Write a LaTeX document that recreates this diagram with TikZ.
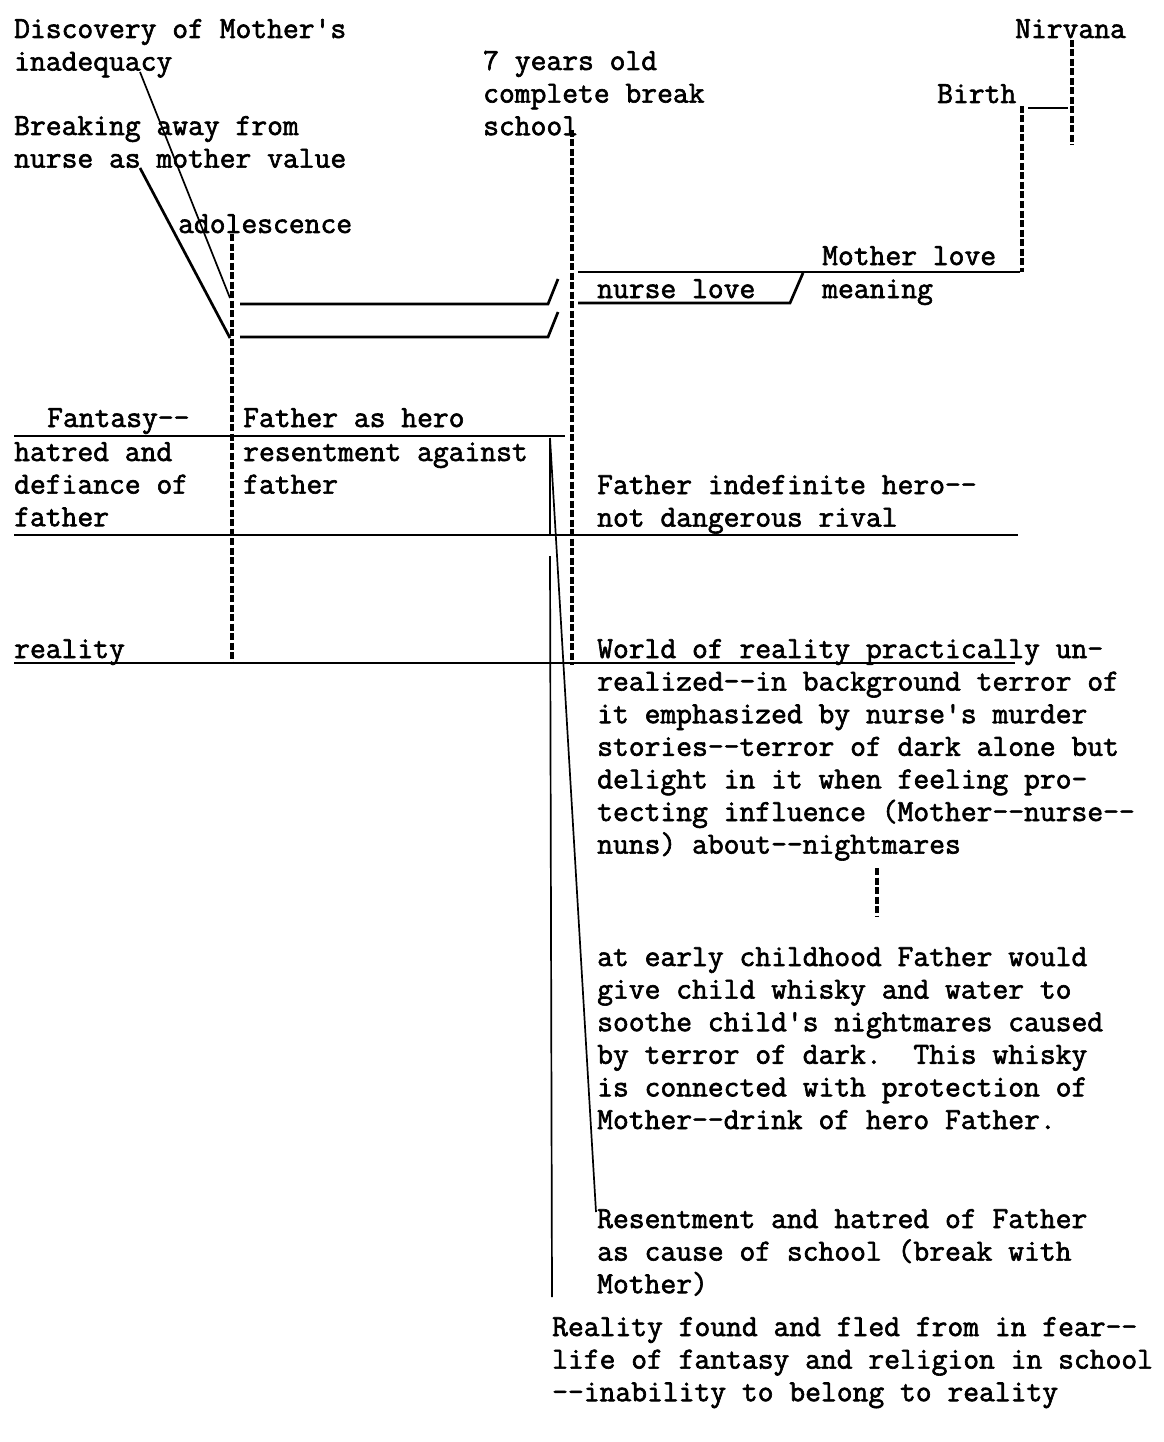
\documentclass[tikz,border=0pt]{standalone}
\usepackage{fontspec}
\setmonofont[FakeBold=2]{Latin Modern Mono}
\newcommand\tlines[1]{\vtop{\halign{##\hfil\cr#1\crcr}}}
\begin{document}
\frenchspacing
\begin{tikzpicture}[x=1pt,y=-1pt,
  txt/.style={font=\ttfamily\fontsize{30.7}{32.6}\selectfont, inner sep=0pt, anchor=base west},
  rule/.style={line width=2.7pt},
  fine/.style={line width=1.7pt},
  dots/.style={line width=4pt, dash pattern=on 7pt off 2.5pt}]
\fill[white] (0,0) rectangle (1163,1442);
\useasboundingbox (0,0) rectangle (1163,1442);
% texts
\node[txt] (disc) at (14,38) {\tlines{Discovery of Mother's\cr inadequacy}};
\node[txt] (brk) at (14,135) {\tlines{Breaking away from\cr nurse as mother value}};
\node[txt] (adol) at (178,233) {adolescence};
\node[txt] (seven) at (483,70) {\tlines{7 years old\cr complete break\cr school}};
\node[txt] (nirv) at (1015,38) {Nirvana};
\node[txt] (birth) at (937,103) {Birth};
\node[txt] (mlove) at (822,265) {Mother love};
\node[txt] (nlove) at (597,298) {nurse love};
\node[txt] (mean) at (822,298) {meaning};
\node[txt] (fant) at (47,427) {Fantasy-{}-};
\node[txt] (fhero) at (243,427) {Father as hero};
\node[txt] (hatred) at (14,461) {\tlines{hatred and\cr defiance of\cr father}};
\node[txt] (resent) at (243,461) {\tlines{resentment against\cr father}};
\node[txt] (findef) at (597,494) {\tlines{Father indefinite hero-{}-\cr not dangerous rival}};
\node[txt] (real) at (14,658) {reality};
\node[txt] (world) at (597,658) {\tlines{World of reality practically un-\cr realized-{}-in background terror of\cr it emphasized by nurse's murder\cr stories-{}-terror of dark alone but\cr delight in it when feeling pro-\cr tecting influence (Mother-{}-nurse-{}-\cr nuns) about-{}-nightmares}};
\node[txt] (early) at (597,966) {\tlines{at early childhood Father would\cr give child whisky and water to\cr soothe child's nightmares caused\cr by terror of dark.\ \ This whisky\cr is connected with protection of\cr Mother-{}-drink of hero Father.}};
\node[txt] (rhate) at (597,1228) {\tlines{Resentment and hatred of Father\cr as cause of school (break with\cr Mother)}};
\node[txt] (rfound) at (552,1336) {\tlines{Reality found and fled from in fear-{}-\cr life of fantasy and religion in school\cr -{}-inability to belong to reality}};
% coordinates
\coordinate (d1) at (140,72); \coordinate (d2) at (230,298);
\coordinate (b1) at (140,168); \coordinate (b2) at (230,338);
\coordinate (L1a) at (240,304); \coordinate (L1b) at (548,304); \coordinate (L1c) at (558,279);
\coordinate (L2a) at (240,337); \coordinate (L2b) at (548,337); \coordinate (L2c) at (558,312);
\coordinate (R1a) at (578,272); \coordinate (R1b) at (1020,272);
\coordinate (R2a) at (578,303); \coordinate (R2b) at (790,303); \coordinate (R2c) at (803,273);
\coordinate (H1a) at (14,436); \coordinate (H1b) at (565,436);
\coordinate (H2a) at (14,535); \coordinate (H2b) at (1018,535);
\coordinate (H3a) at (14,663); \coordinate (H3b) at (1015,663);
\coordinate (t0) at (550,438); \coordinate (tg1) at (550,535); \coordinate (tg2) at (550,556);
\coordinate (t1) at (552,1297); \coordinate (t2) at (596,1212);
\coordinate (v1a) at (232,234); \coordinate (v1b) at (232,662);
\coordinate (v2a) at (572,130); \coordinate (v2b) at (572,665);
\coordinate (v3a) at (1022,106); \coordinate (v3b) at (1022,272);
\coordinate (v4a) at (1072,40); \coordinate (v4b) at (1072,145);
\coordinate (v5a) at (877,868); \coordinate (v5b) at (877,916);
\coordinate (bl1) at (1028,108); \coordinate (bl2) at (1068,108);
% connectors
\draw[fine] (d1) -- (d2);
\draw[rule] (b1) -- (b2);
\draw[rule] (L1a) -- (L1b) -- (L1c);
\draw[rule] (L2a) -- (L2b) -- (L2c);
\draw[rule] (R1a) -- (R1b);
\draw[rule] (R2a) -- (R2b) -- (R2c);
\draw[rule] (H1a) -- (H1b);
\draw[rule] (H2a) -- (H2b);
\draw[rule] (H3a) -- (H3b);
\draw[fine] (t0) -- (tg1);
\draw[fine] (tg2) -- (t1);
\draw[fine] (t0) -- (t2);
\draw[dots] (v1a) -- (v1b);
\draw[dots] (v2a) -- (v2b);
\draw[dots] (v3a) -- (v3b);
\draw[dots] (v4a) -- (v4b);
\draw[dots] (v5a) -- (v5b);
\draw[rule] (bl1) -- (bl2);
\end{tikzpicture}
\end{document}
